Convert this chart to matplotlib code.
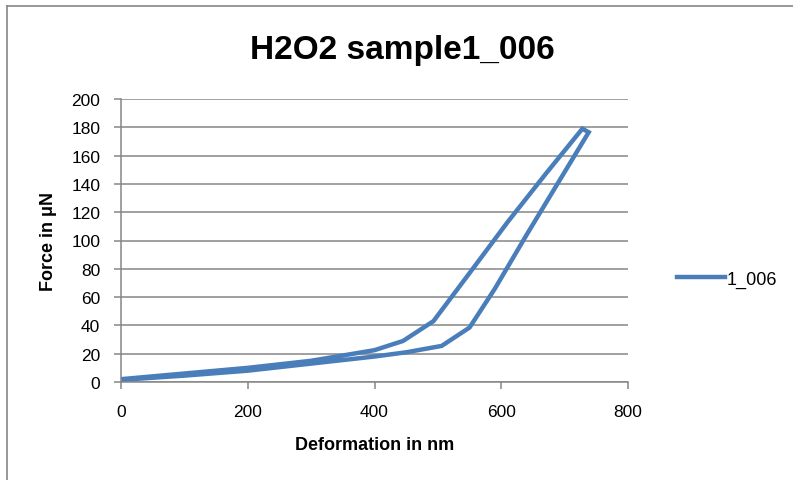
import matplotlib.pyplot as plt
from matplotlib.lines import Line2D

# force-deformation loop
deformation = [0, 100, 200, 300, 400, 445, 493, 550, 610, 670, 728, 738,
               690, 640, 590, 550, 506, 450, 400, 300, 200, 100, 0]
force = [2, 6, 10, 15, 22.5, 29, 43, 77, 113, 147, 179, 176.5,
         141, 104, 66, 38.5, 25.5, 21, 18, 13, 8, 4.5, 1.5]

x_ticks = [0, 200, 400, 600, 800]
y_ticks = [0, 20, 40, 60, 80, 100, 120, 140, 160, 180, 200]

plt.rcParams['font.family'] = ['Liberation Sans', 'DejaVu Sans']

fig = plt.figure(figsize=(7.93, 4.81), dpi=100)
ax = fig.add_axes([121 / 793, 1 - 383 / 481, 507 / 793, 283 / 481])

line, = ax.plot(deformation, force, color='#4a7ebb', linewidth=3.2,
                solid_joinstyle='miter', label='1_006')

ax.set_xlim(0, 800)
ax.set_ylim(0, 200)
ax.set_xticks(x_ticks)
ax.set_yticks(y_ticks)
ax.grid(axis='y', color='#868686', linewidth=1.1)
ax.set_axisbelow(True)
for side in ['top', 'right']:
    ax.spines[side].set_visible(False)
for side in ['left', 'bottom']:
    ax.spines[side].set_color('#868686')
    ax.spines[side].set_linewidth(1.1)
ax.tick_params(axis='both', colors='#868686', length=5, width=1.1,
               labelcolor='black', labelsize=12.5)
ax.tick_params(axis='y', pad=10)
ax.tick_params(axis='x', pad=11)

ax.set_xlabel('Deformation in nm', fontsize=13, fontweight='bold', labelpad=12)
ax.set_ylabel('Force in μN', fontsize=13, fontweight='bold', labelpad=10)

fig.text(402 / 793, 1 - 50 / 481, 'H2O2 sample1_006', fontsize=24,
         fontweight='bold', ha='center', va='center')

ax.legend(handles=[line], loc='center left', bbox_to_anchor=(1.097, 1 - (280 - 100) / 283),
          frameon=False, fontsize=13, handlelength=2.65, handletextpad=0.1,
          borderaxespad=0, borderpad=0)

# outer chart border (top and left visible)
fig.add_artist(Line2D([7 / 793, 7 / 793], [0, 1 - 7 / 481], color='#868686', linewidth=1.2))
fig.add_artist(Line2D([7 / 793, 1], [1 - 7 / 481, 1 - 7 / 481], color='#868686', linewidth=1.2))

fig.savefig('out.png', dpi=100)
